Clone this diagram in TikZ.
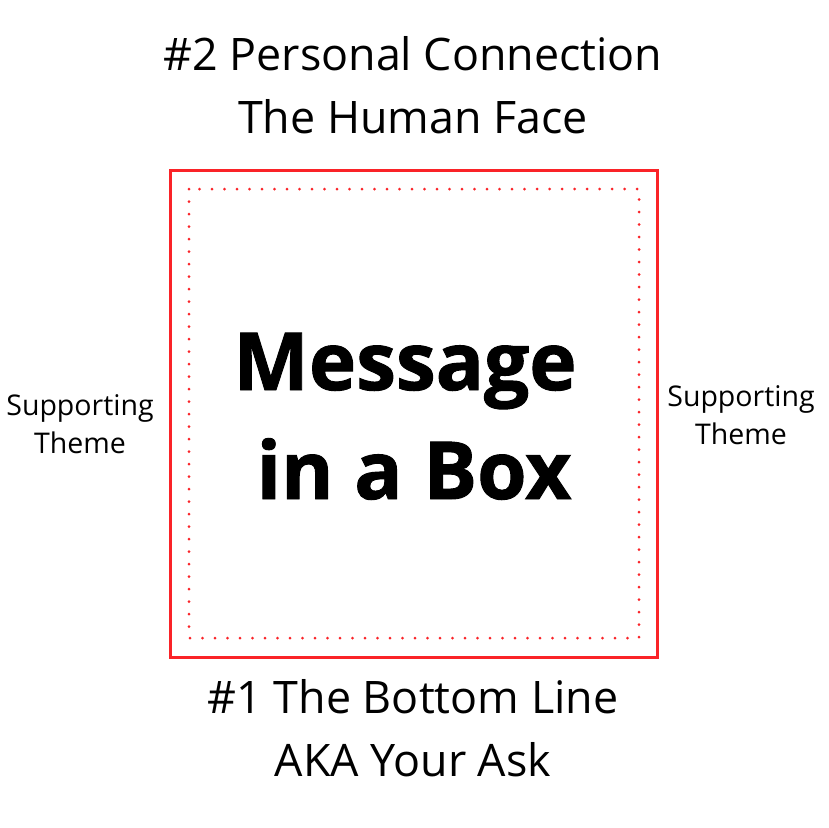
\documentclass[tikz,border=0pt]{standalone}
\usepackage{fontspec}
\setmainfont{Open Sans}
\definecolor{boxred}{RGB}{250,35,40}
\begin{document}
\begin{tikzpicture}[x=1pt,y=-1pt,
  title/.style={font=\fontsize{44.8}{63}\selectfont, align=center, inner sep=0pt},
  side/.style={font=\fontsize{28.5}{38}\selectfont, align=center, inner sep=0pt},
  big/.style={font=\fontsize{80}{109}\selectfont\bfseries\addfontfeatures{FakeBold=1.2}, align=center, inner sep=0pt}]
\useasboundingbox[fill=white] (0,0) rectangle (828,828);
\draw[boxred, line width=3pt] (170,170) rectangle (657,657);
\draw[boxred, line width=3pt, line cap=round, dash pattern=on 0pt off 12.5pt] (189,189) rectangle (639,638);
\node[title] (top) at (413,85) {\#2 Personal Connection\\The Human Face};
\node[title] (bottom) at (413,728) {\#1 The Bottom Line\\AKA Your Ask};
\node[big, anchor=base] (msg1) at (405,390) {Message};
\node[big, anchor=base] (msg2) at (414,499) {in a Box};
\node[side] (left) at (80,424) {Supporting\\Theme};
\node[side] (right) at (741,415) {Supporting\\Theme};
\end{tikzpicture}
\end{document}
